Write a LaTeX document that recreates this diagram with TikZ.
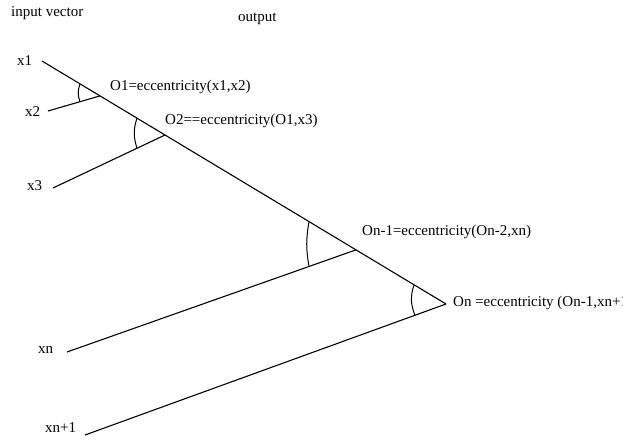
\documentclass[tikz,border=0pt]{standalone}
\usepackage{fontspec}
\setmainfont{Liberation Serif}
\usetikzlibrary{calc}
\begin{document}
\begin{tikzpicture}[x=1pt,y=-1pt,
  lbl/.style={anchor=west,inner sep=0pt,font=\fontsize{15}{18}\selectfont},
  wire/.style={line width=1.1pt},
  anglearc/.style={line width=1pt}]
\useasboundingbox (0,0) rectangle (623,436);

% main output line
\coordinate (A) at (42,61);
\coordinate (P) at (446,304);
% input line starts
\coordinate (s2) at (48,111);
\coordinate (s3) at (53,188);
\coordinate (sn) at (67,352);
\coordinate (sm) at (85,435);
% junctions on the output line
\coordinate (J1) at ($(A)!0.1436!(P)$);
\coordinate (J2) at ($(A)!0.3045!(P)$);
\coordinate (J3) at ($(A)!0.7772!(P)$);

% labels
\node[lbl] (tin)  at (11,13)  {input vector};
\node[lbl] (tout) at (238,19) {output};
\node[lbl] (lx1)  at (17,61)  {x1};
\node[lbl] (lx2)  at (25,112) {x2};
\node[lbl] (lx3)  at (27,186) {x3};
\node[lbl] (lxn)  at (38,350) {xn};
\node[lbl] (lxm)  at (45,428) {xn+1};
\node[lbl] (o1) at (110,87)  {O1=eccentricity(x1,x2)};
\node[lbl] (o2) at (165,121) {O2==eccentricity(O1,x3)};
\node[lbl] (o3) at (362,232) {On-1=eccentricity(On-2,xn)};
\node[lbl] (o4) at (453,303) {On =eccentricity (On-1,xn+1)};

% lines
\draw[wire] (A) -- (P);
\draw[wire] (s2) -- (J1);
\draw[wire] (s3) -- (J2);
\draw[wire] (sn) -- (J3);
\draw[wire] (sm) -- (P);

% angle marks, each joining the output line to the input line below it
\draw[anglearc] ($(A)!0.0941!(P)$) to[bend right=20] ($(s2)!0.615!(J1)$);
\draw[anglearc] ($(A)!0.2351!(P)$) to[bend right=18] ($(s3)!0.75!(J2)$);
\draw[anglearc] ($(A)!0.6609!(P)$) to[bend right=10] ($(sn)!0.8374!(J3)$);
\draw[anglearc] ($(A)!0.9208!(P)$) to[bend right=20] ($(sm)!0.9141!(P)$);
\end{tikzpicture}
\end{document}
